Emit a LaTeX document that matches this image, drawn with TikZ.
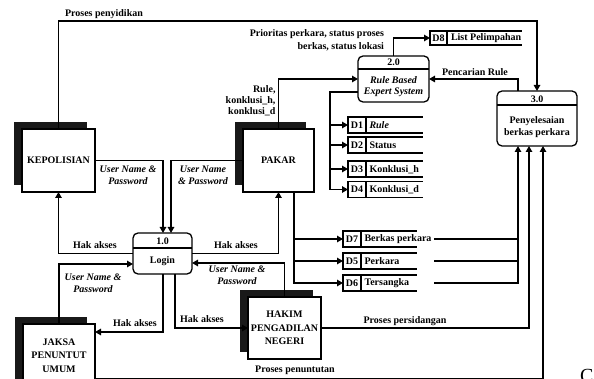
\documentclass[tikz,border=0pt]{standalone}
\usepackage{fontspec}
\setmainfont{Liberation Serif}
\usetikzlibrary{arrows.meta,calc}

\begin{document}
\begin{tikzpicture}[x=1pt,y=-1pt,
  every node/.style={font=\fontsize{10}{12}\selectfont\bfseries, inner sep=0pt, outer sep=0pt},
  wire/.style={line width=1.3pt},
  flow/.style={line width=1.3pt, -{Triangle[length=6pt,width=6.5pt]}},
  entity/.style={draw, line width=1.3pt, fill=white, minimum width=73pt, minimum height=63pt,
    align=center, font=\fontsize{10}{13.5}\selectfont\bfseries},
  entshadow/.style={fill=black!90, minimum width=73pt, minimum height=63pt},
  proc/.style={draw, line width=1.3pt, rounded corners=5pt, fill=white},
  storecell/.style={draw, line width=1.3pt, minimum width=18pt, minimum height=16pt},
  lbl/.style={align=center},
  ilbl/.style={align=center, font=\fontsize{10}{12}\selectfont\bfseries\itshape},
]
\useasboundingbox (0,0) rectangle (594,379);
\fill[white] (0,0) rectangle (594,379);

% helper coordinates for bends
\coordinate (xA) at (163,0);
\coordinate (xB) at (171,0);
\coordinate (xC) at (175,0);
\coordinate (xK) at (294,0);
\coordinate (xT) at (330,0);
\coordinate (xJ) at (434,0);
\coordinate (xR) at (518,0);
\coordinate (xS) at (529,0);
\coordinate (xU) at (543,0);
\coordinate (yTop) at (0,21);
\coordinate (yRB) at (0,92);
\coordinate (yHL) at (0,263);
\coordinate (yJL) at (0,264);
\coordinate (yJH) at (0,332);
\coordinate (yBot) at (0,378.7);

% external entities (shadow first, then box)
\node[entshadow] (kepS) at (50.5,153.5) {};
\node[entity] (kep) at (58.5,160.5) {KEPOLISIAN};
\node[entshadow, minimum width=71pt] (pakS) at (270.5,153.5) {};
\node[entity, minimum width=71pt] (pak) at (278.5,160.5) {PAKAR};
\node[entshadow, minimum width=72pt] (jakS) at (51,348.5) {};
\node[entity, minimum width=72pt] (jak) at (59,355.5) {JAKSA\\PENUNTUT\\UMUM};
\node[entshadow, minimum height=62pt] (hakS) at (276.5,321) {};
\node[entity, minimum height=62pt] (hak) at (284.5,328) {HAKIM\\PENGADILAN\\NEGERI};

% processes
\node[proc, minimum width=59pt, minimum height=41pt] (p1) at (162.5,253.5) {};
\draw[wire] ($(p1.north west)+(0,15)$) -- ($(p1.north east)+(0,15)$);
\node (p1n) at (162.5,241.5) {1.0};
\node (p1t) at (162.5,261.5) {Login};

\node[proc, minimum width=71pt, minimum height=46pt] (p2) at (393.5,79) {};
\draw[wire] ($(p2.north west)+(0,13)$) -- ($(p2.north east)+(0,13)$);
\node (p2n) at (393.5,62.5) {2.0};
\node[ilbl, font=\fontsize{10}{11}\selectfont\bfseries\itshape] (p2t) at (393.5,87) {Rule Based\\Expert System};

\node[proc, minimum width=80pt, minimum height=55pt] (p3) at (537,118.5) {};
\draw[wire] ($(p3.north west)+(0,14)$) -- ($(p3.north east)+(0,14)$);
\node (p3n) at (537,99.5) {3.0};
\node[lbl] (p3t) at (537,127.5) {Penyelesaian\\berkas perkara};

% data stores
\node[storecell, minimum width=17pt, minimum height=14pt] (d8) at (438.5,38) {D8};
\node[storecell] (d1) at (357,125) {D1};
\node[storecell] (d2) at (357,145) {D2};
\node[storecell] (d3) at (357,169) {D3};
\node[storecell] (d4) at (357,189.5) {D4};
\node[storecell] (d7) at (352,239) {D7};
\node[storecell] (d5) at (352,261) {D5};
\node[storecell] (d6) at (352,283) {D6};
\draw[wire] (d8.north east) -- ++(75,0) (d8.south east) -- ++(75,0);
\foreach \s in {d1,d2,d3,d4}
  \draw[wire] (\s.north east) -- ++(57,0) (\s.south east) -- ++(57,0);
\foreach \s in {d7,d5,d6}
  \draw[wire] (\s.north east) -- ++(56,0) (\s.south east) -- ++(56,0);
\node[anchor=west] (d8t) at ($(d8.east)+(4,0.5)$) {List Pelimpahan};
\node[anchor=west, font=\fontsize{10}{12}\selectfont\bfseries\itshape] (d1t) at ($(d1.east)+(3.5,0.5)$) {Rule};
\node[anchor=west] (d2t) at ($(d2.east)+(3.5,0.5)$) {Status};
\node[anchor=west] (d3t) at ($(d3.east)+(3.5,0.5)$) {Konklusi\_h};
\node[anchor=west] (d4t) at ($(d4.east)+(3.5,0.5)$) {Konklusi\_d};
\node[anchor=west] (d7t) at ($(d7.east)+(3.5,0.5)$) {Berkas perkara};
\node[anchor=west] (d5t) at ($(d5.east)+(3.5,0.5)$) {Perkara};
\node[anchor=west] (d6t) at ($(d6.east)+(3.5,0.5)$) {Tersangka};

% data flows
\draw[flow] (kep.north) |- (p3.north |- yTop) -- (p3.north);
\draw[flow] (p3.north -| xR) |- (p2.east);
\draw[flow] (pak.north) |- (p2.west);
\draw[flow] (p2.north) |- (d8.west);
\draw[flow] (p2.west |- yRB) -| (xT |- d4.west) -- (d4.west);
\foreach \s in {d1,d2,d3}
  \draw[flow] (xT |- \s.west) -- (\s.west);
\draw[flow] (pak.south -| xK) |- (d6.west);
\foreach \s in {d7,d5}
  \draw[flow] (xK |- \s.west) -- (\s.west);
\draw[flow] (xJ |- d6.west) -| (p3.south -| xR);
\draw[wire] (xJ |- d7.west) -- (xR |- d7.west);
\draw[wire] (xJ |- d5.west) -- (xR |- d5.west);
\draw[flow] (hak.east) -| (p3.south -| xS);
\draw[flow] (jak.east |- yBot) -| (p3.south -| xU);

\draw[flow] (kep.east) -| (p1.north -| xA);
\draw[flow] (pak.west) -| (p1.north -| xB);
\draw[flow] (p1.west) -| (kep.south);
\draw[flow] (p1.east) -| (pak.south);
\draw[flow] (jak.north) |- (p1.west |- yJL);
\draw[flow] (hak.north) |- (p1.east |- yHL);
\draw[flow] (p1.south -| xA) |- (jak.east |- yJH);
\draw[flow] (p1.south -| xC) |- (hak.west);

% flow labels
\node[anchor=west] (lPen) at (65,14.5) {Proses penyidikan};
\node[anchor=east, align=right, font=\fontsize{10}{13}\selectfont\bfseries] (lPrio) at (384,40.5) {Prioritas perkara, status proses\\berkas, status lokasi};
\node[anchor=east, align=right, font=\fontsize{10}{11}\selectfont\bfseries] (lRule) at (275.5,100.5) {Rule,\\konklusi\_h,\\konklusi\_d};
\node (lPc) at (475,72.5) {Pencarian Rule};
\node[ilbl] (lU1) at (128,175.5) {User Name \&\\Password};
\node[ilbl] (lU2) at (203,175.5) {User Name\\\& Password};
\node (lH1) at (95,245.5) {Hak akses};
\node (lH2) at (236,245.5) {Hak akses};
\node[ilbl] (lU3) at (93,283.5) {User Name \&\\Password};
\node[ilbl] (lU4) at (237,275.5) {User Name \&\\Password};
\node (lH3) at (135,323.5) {Hak akses};
\node (lH4) at (202,319.5) {Hak akses};
\node (lPs) at (405,321.5) {Proses persidangan};
\node (lPt) at (295,370.5) {Proses penuntutan};
\node[anchor=north west, font=\fontsize{20}{24}\selectfont] (cut) at (580,369) {C};
\end{tikzpicture}
\end{document}
